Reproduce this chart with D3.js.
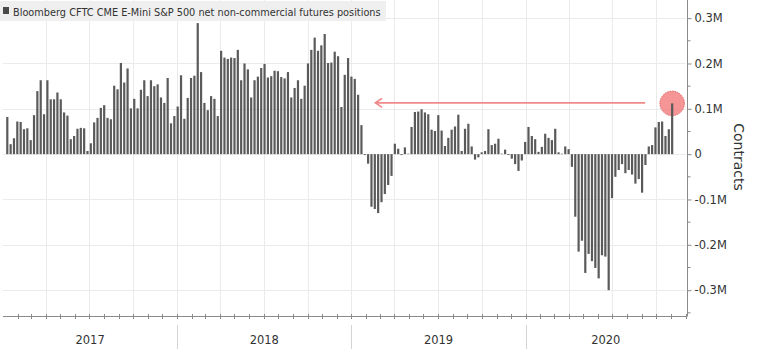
<!DOCTYPE html>
<html>
<head>
<meta charset="utf-8">
<script src="https://cdn.jsdelivr.net/npm/d3@7"></script>
<style>
  html, body { margin: 0; padding: 0; background: #fff; overflow: hidden; }
  text { font-family: "DejaVu Sans", "Noto Sans", sans-serif; fill: #333; }
</style>
</head>
<body>
<svg id="chart" width="760" height="349"></svg>
<script>
// Weekly CFTC report dates start here (Tuesdays); values are net contracts in thousands
const firstReport = new Date(2017, 0, 10);

const net2017 = [82, 22, 35, 72, 71, 55, 57, 31, 86, 139, 163, 88, 163, 121, 121, 136, 121, 92, 85, 33,
  40, 56, 58, 57, 7, 24, 70, 80, 102, 108, 80, 77, 151, 143, 201, 158, 189, 101, 122, 101,
  142, 163, 128, 163, 150, 154, 125, 113, 168, 68, 84];
const net2018 = [105, 174, 78, 124, 168, 173, 289, 181, 113, 97, 128, 122, 84, 228, 213, 210, 213, 212, 230, 163,
  200, 187, 125, 163, 171, 190, 199, 169, 172, 184, 183, 170, 167, 181, 125, 146, 163, 122, 151, 200,
  230, 257, 228, 240, 265, 201, 202, 226, 216, 104, 175, 212];
const net2019 = [171, 166, 131, 64, -2, -21, -116, -121, -130, -106, -88, -68, -48, 23, 12, -2, 15, 1, 60, 93,
  94, 99, 92, 88, 54, 51, 86, 52, 18, 36, 54, 61, 87, 7, 56, 67, 17, -12, -7, 4,
  7, 55, 20, 23, 34, 1, 10, -2, -10, -22, -37, -14, 27];
const net2020 = [60, 40, 33, 5, 16, 45, 36, 31, 56, 4, 1, 17, 11, -28, -138, -215, -191, -262, -220, -236,
  -251, -274, -223, -226, -300, -97, -50, -35, -22, -42, -35, -45, -65, -55, -85, -24, 17, 20, 59, 71,
  72, 40, 55, 112];

const yTickValues = [-300000, -200000, -100000, 0, 100000, 200000, 300000];
const yMinorTicks = [-350000, -250000, -150000, -50000, 50000, 150000, 250000];
const yearLabels = ["2017", "2018", "2019", "2020"];
const legendLabel = "Bloomberg CFTC CME E-Mini S&P 500 net non-commercial futures positions";
const axisTitle = "Contracts";

const series = [...net2017, ...net2018, ...net2019, ...net2020].map((v, i) => ({
  date: d3.timeDay.offset(firstReport, 7 * i),
  value: v * 1000
}));

const svg = d3.select("#chart");
const plotLeft = 3, plotRight = 686, plotTop = 0, plotBottom = 316;

const x = d3.scaleTime()
  .domain([new Date(2017, 0, 1), new Date(2020, 11, 2)])
  .range([plotLeft, plotRight]);
const y = d3.scaleLinear()
  .domain([-357000, 340000])
  .range([plotBottom, plotTop]);

// Grid: quarterly verticals, 0.1M horizontals
const grid = svg.append("g").attr("stroke", "#ebebeb").attr("stroke-width", 1);
grid.selectAll("line.v")
  .data(d3.timeMonth.every(3).range(x.domain()[0], x.domain()[1]).filter(d => x(d) > plotLeft + 1))
  .join("line")
  .attr("x1", d => Math.round(x(d)) + 0.5).attr("x2", d => Math.round(x(d)) + 0.5)
  .attr("y1", plotTop).attr("y2", plotBottom);
grid.selectAll("line.h")
  .data(yTickValues)
  .join("line")
  .attr("x1", plotLeft).attr("x2", plotRight)
  .attr("y1", d => Math.round(y(d)) + 0.5).attr("y2", d => Math.round(y(d)) + 0.5);

// Legend box
const legend = svg.append("g");
legend.append("rect").attr("x", 0).attr("y", 1).attr("width", 386).attr("height", 20).attr("fill", "#efefef");
legend.append("rect").attr("x", 3).attr("y", 7).attr("width", 6).attr("height", 7).attr("fill", "#4a4a4a");
const legendText = legend.append("text").attr("x", 13).attr("y", 15.5)
  .attr("font-size", 11).text(legendLabel);
const lw = legendText.node().getComputedTextLength();
legendText.attr("font-size", (11 * 368 / lw).toFixed(2));

// Highlight on the latest reading
const last = series[series.length - 1];
const cx = x(last.date), cy = y(last.value);
svg.append("circle")
  .attr("cx", cx).attr("cy", cy).attr("r", 12.3)
  .attr("fill", "#f27a7a").attr("fill-opacity", 0.8)
  .attr("stroke", "#d85a5a").attr("stroke-width", 0.8).attr("stroke-dasharray", "1.5,1");

// Bars
const barW = 2.2;
svg.append("g").selectAll("rect")
  .data(series)
  .join("rect")
  .attr("x", d => x(d.date) - barW / 2)
  .attr("width", barW)
  .attr("y", d => y(Math.max(0, d.value)))
  .attr("height", d => Math.abs(y(d.value) - y(0)))
  .attr("fill", "#5a5a5a");

// Arrow back to the previous comparable level
const arrow = svg.append("g").attr("stroke", "#ef8a8a").attr("fill", "none").attr("stroke-width", 1.8);
arrow.append("line").attr("x1", 375).attr("x2", cx - 27).attr("y1", cy - 0.5).attr("y2", cy - 0.5);
arrow.append("polyline")
  .attr("points", `${382},${cy - 5} ${375.5},${cy - 0.5} ${382},${cy + 4}`);

// Right axis
const yAxis = svg.append("g").attr("transform", `translate(${plotRight + 1.5},0)`);
yAxis.append("line").attr("x1", 0).attr("x2", 0).attr("y1", plotTop).attr("y2", plotBottom)
  .attr("stroke", "#8a8a8a");
yAxis.selectAll("line.minor").data(yMinorTicks).join("line")
  .attr("x1", 0).attr("x2", 3)
  .attr("y1", d => y(d)).attr("y2", d => y(d))
  .attr("stroke", "#8a8a8a");
const axisR = d3.axisRight(y)
  .tickValues(yTickValues)
  .tickSize(4)
  .tickPadding(3)
  .tickFormat(d => d === 0 ? "0" : (d / 1e6).toFixed(1) + "M");
const gR = svg.append("g").attr("transform", `translate(${plotRight + 1.5},0)`).call(axisR);
gR.select(".domain").remove();
gR.selectAll(".tick line").attr("stroke", "#8a8a8a");
gR.selectAll(".tick text").attr("font-size", 11.5).attr("fill", "#333")
  .style("font-family", "DejaVu Sans");

svg.append("text")
  .attr("transform", `translate(734,157) rotate(90)`)
  .attr("text-anchor", "middle")
  .attr("font-size", 14)
  .text(axisTitle);

// Bottom time axis with monthly ticks
const xAxis = svg.append("g");
xAxis.append("line").attr("x1", plotLeft).attr("x2", plotRight + 1.5)
  .attr("y1", plotBottom + 0.5).attr("y2", plotBottom + 0.5).attr("stroke", "#8a8a8a");
xAxis.selectAll("line.m")
  .data(d3.timeMonth.range(x.domain()[0], x.domain()[1]).filter(d => x(d) > plotLeft + 2))
  .join("line")
  .attr("x1", d => Math.round(x(d)) + 0.5).attr("x2", d => Math.round(x(d)) + 0.5)
  .attr("y1", plotBottom - 2).attr("y2", plotBottom + 3)
  .attr("stroke", "#8a8a8a");

const yearStarts = yearLabels.map(t => new Date(+t, 0, 1));
xAxis.selectAll("line.sep")
  .data(yearStarts.slice(1))
  .join("line")
  .attr("x1", d => Math.round(x(d)) + 0.5).attr("x2", d => Math.round(x(d)) + 0.5)
  .attr("y1", 325).attr("y2", 349)
  .attr("stroke", "#d4d4d4");
xAxis.selectAll("text.year")
  .data(yearLabels)
  .join("text")
  .attr("x", (t, i) => {
    const a = Math.max(x(yearStarts[i]), plotLeft);
    const b = Math.min(x(new Date(+t + 1, 0, 1)), plotRight);
    return (a + b) / 2;
  })
  .attr("y", 344)
  .attr("text-anchor", "middle")
  .attr("font-size", 11.5)
  .text(t => t);
</script>
</body>
</html>
